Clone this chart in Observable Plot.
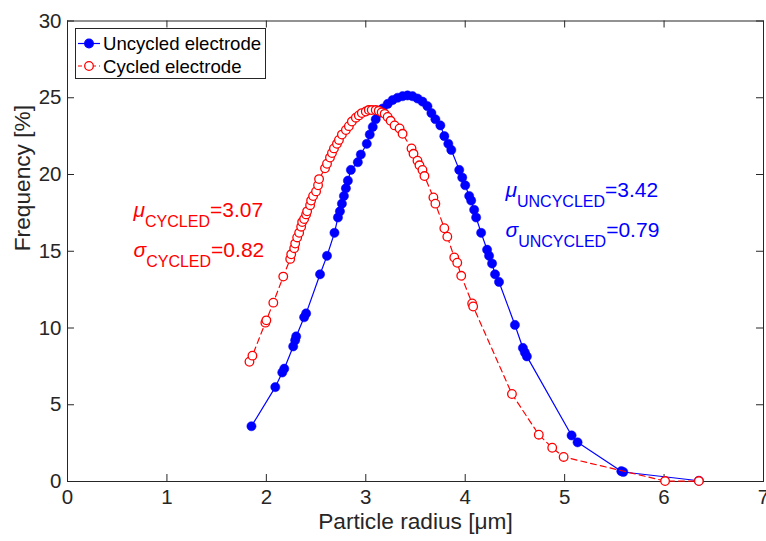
<!DOCTYPE html>
<html><head><meta charset="utf-8">
<script src="https://cdn.jsdelivr.net/npm/d3@7"></script>
<script src="https://cdn.jsdelivr.net/npm/@observablehq/plot@0.6"></script>
<style>
body{margin:0;background:#fff;}
#chart svg{font-family:"Liberation Sans",Arial,Helvetica,sans-serif;background:#fff;}
</style>
</head><body><div id="chart"></div>
<script>
// ---- data ----
const uncycledX = [1.85,2.09,2.16,2.18,2.27,2.29,2.30,2.38,2.40,2.54,2.61,2.685,2.72,2.74,2.76,2.78,2.80,2.82,2.85,2.92,2.95,3.01,3.04,3.07,3.10,3.13,3.17,3.22,3.27,3.32,3.37,3.42,3.47,3.52,3.57,3.62,3.66,3.70,3.75,3.79,3.83,3.86,3.94,3.97,4.00,4.04,4.06,4.09,4.11,4.16,4.22,4.24,4.27,4.30,4.34,4.50,4.58,4.60,4.62,5.07,5.13,5.57,5.59,6.35];
const uncycledY = [3.6,6.15,7.1,7.35,8.8,9.2,9.45,10.7,10.95,13.5,14.7,16.2,17.2,17.6,18.1,18.6,19.1,19.6,20.3,20.8,21.3,22.0,22.6,23.1,23.6,24.0,24.3,24.6,24.85,25.0,25.1,25.15,25.1,24.95,24.75,24.45,24.0,23.6,23.2,22.5,22.0,21.6,20.3,19.8,19.3,18.6,18.3,17.7,17.2,16.2,15.1,14.7,14.2,13.5,13.0,10.2,8.7,8.4,8.15,3.0,2.55,0.67,0.62,0.05];
const cycledX = [1.83,1.86,1.99,2.00,2.07,2.17,2.24,2.25,2.28,2.29,2.31,2.33,2.35,2.36,2.38,2.40,2.41,2.44,2.45,2.47,2.50,2.52,2.53,2.59,2.61,2.64,2.66,2.68,2.71,2.73,2.76,2.80,2.83,2.86,2.90,2.93,2.96,3.00,3.03,3.06,3.10,3.13,3.16,3.19,3.22,3.25,3.29,3.34,3.37,3.46,3.48,3.52,3.54,3.57,3.59,3.68,3.70,3.79,3.82,3.89,3.92,3.96,4.07,4.08,4.47,4.74,4.875,4.99,6.01,6.35];
const cycledY = [7.8,8.2,10.35,10.5,11.65,13.35,14.5,14.8,15.2,15.5,15.9,16.2,16.6,16.9,17.1,17.4,17.6,18.0,18.3,18.6,18.9,19.3,19.7,20.4,20.7,21.1,21.4,21.7,22.0,22.25,22.6,22.9,23.15,23.45,23.7,23.85,24.0,24.1,24.2,24.2,24.2,24.15,24.05,23.95,23.75,23.5,23.2,23.0,22.65,21.7,21.35,20.9,20.6,20.3,19.9,18.5,18.1,16.5,15.95,14.6,14.25,13.4,11.6,11.4,5.7,3.05,2.2,1.6,0.03,0.03];
const xTicks = [0,1,2,3,4,5,6,7];
const yTicks = [0,5,10,15,20,25,30];
const seriesNames = ["Uncycled electrode","Cycled electrode"];
const statSymbols = ["μ","σ","μ","σ"];
const statSubs = ["CYCLED","CYCLED","UNCYCLED","UNCYCLED"];
const statValues = ["=3.07","=0.82","=3.42","=0.79"];
const statX = [0.664,0.664,4.405,4.405];   // anchor in data units
const statY = [17.25,14.65,18.55,15.95];
const xLabel = "Particle radius [μm]";
const yLabel = "Frequency [%]";

// ---- build tables ----
const uncycled = uncycledX.map((x,i)=>({x, y: uncycledY[i]}));
const cycled = cycledX.map((x,i)=>({x, y: cycledY[i]}));
const stats = statSymbols.map((s,i)=>({s, sub: statSubs[i], v: statValues[i], x: statX[i], y: statY[i], color: i<2 ? "#ff0000" : "#0000ff"}));

const W = 766, H = 541;
const mL = 67, mR = 3, mT = 20.5, mB = 60;
const plotH = H - mT - mB, plotW = W - mL - mR;
const tickLen = 7;
const axisColor = "#262626";

const chart = Plot.plot({
  width: W, height: H,
  marginLeft: mL, marginRight: mR, marginTop: mT, marginBottom: mB,
  style: {fontSize: "20.5px", color: axisColor, fontFamily: '"Liberation Sans",Arial,sans-serif', overflow: "visible"},
  x: {domain: [0,7], ticks: xTicks, tickSize: 0, tickPadding: 8, label: null, tickFormat: d=>String(d)},
  y: {domain: [0,30], ticks: yTicks, tickSize: 0, tickPadding: 6, label: null, tickFormat: d=>String(d)},
  marks: [
    // inward ticks on all four sides
    Plot.ruleX(xTicks, {x: d=>d, y1: 30, y2: 0, insetTop: plotH - tickLen, stroke: axisColor}),
    Plot.ruleX(xTicks, {x: d=>d, y1: 30, y2: 0, insetBottom: plotH - tickLen, stroke: axisColor}),
    Plot.ruleY(yTicks, {y: d=>d, x1: 0, x2: 7, insetRight: plotW - tickLen, stroke: axisColor}),
    Plot.ruleY(yTicks, {y: d=>d, x1: 0, x2: 7, insetLeft: plotW - tickLen, stroke: axisColor}),
    Plot.frame({stroke: axisColor, strokeWidth: 1}),
    Plot.line(uncycled, {x: "x", y: "y", stroke: "#0000ff", strokeWidth: 1.2}),
    Plot.dot(uncycled, {x: "x", y: "y", r: 4.6, fill: "#0000ff", stroke: "#0000ff", strokeWidth: 0.5}),
    Plot.line(cycled, {x: "x", y: "y", stroke: "#ff0000", strokeWidth: 1.2, strokeDasharray: "6,4"}),
    Plot.dot(cycled, {x: "x", y: "y", r: 4.3, fill: "white", stroke: "#ff0000", strokeWidth: 1.3}),
    Plot.text(stats, {x: "x", y: "y", text: d => d.s + "|" + d.sub + "|" + d.v, fill: "color", textAnchor: "start", fontSize: 21}),
    Plot.text([xLabel], {text: d=>d, frameAnchor: "bottom", dy: 47, fontSize: 22.7, fill: axisColor}),
    Plot.text([yLabel], {text: d=>d, frameAnchor: "left", rotate: -90, dx: -45, fontSize: 22.7, fill: axisColor})
  ]
});

// rich text for the statistics annotations (Greek symbol + subscript)
d3.select(chart).selectAll("text").each(function(){
  const t = this.textContent;
  if (t.split("|").length === 3) {
    const [s, sub, v] = t.split("|");
    const el = d3.select(this);
    el.attr("y", null).attr("dy", null);
    el.text(null);
    el.append("tspan").attr("font-style","italic").text(s);
    el.append("tspan").attr("dy", 10).attr("font-size", 16).text(sub);
    el.append("tspan").attr("dy", -10).text(v);
  }
});

// legend (inside the axes, top-left)
const svg = d3.select(chart);
const lg = svg.append("g").attr("font-family",'"Liberation Sans",Arial,sans-serif').attr("text-anchor","start");
lg.append("rect").attr("x",75.5).attr("y",28.5).attr("width",190).attr("height",50)
  .attr("fill","white").attr("stroke",axisColor).attr("stroke-width",1);
const rows = [
  {name: seriesNames[0], color:"#0000ff", dash:null, fill:"#0000ff", y:43.5},
  {name: seriesNames[1], color:"#ff0000", dash:"4,3", fill:"white", y:66}
];
rows.forEach(r=>{
  lg.append("line").attr("x1",78).attr("x2",100).attr("y1",r.y).attr("y2",r.y)
    .attr("stroke",r.color).attr("stroke-width",1.2).attr("stroke-dasharray",r.dash);
  lg.append("circle").attr("cx",89).attr("cy",r.y).attr("r",4.3)
    .attr("fill",r.fill).attr("stroke",r.color).attr("stroke-width",1.3);
  lg.append("text").attr("x",103).attr("y",r.y).attr("dy","0.35em").attr("text-anchor","start")
    .attr("font-size",18.6).attr("fill","#000").text(r.name);
});

document.getElementById("chart").appendChild(chart);
</script>
</body></html>
